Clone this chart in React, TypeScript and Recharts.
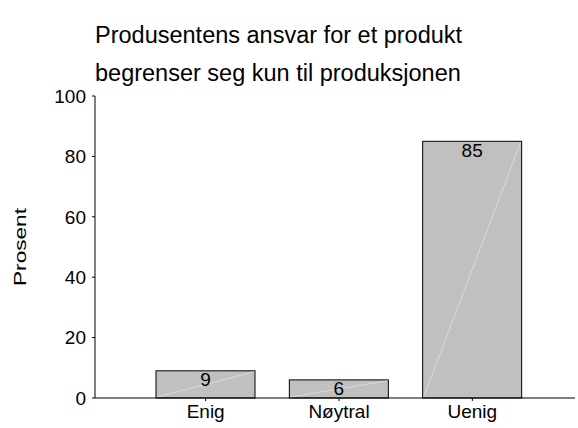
import { Bar, BarChart, LabelList, XAxis, YAxis } from "recharts"

const categories = ["Enig", "Nøytral", "Uenig"]
const percent = [9, 6, 85]
const yTicks = [0, 20, 40, 60, 80, 100]
const titleLines = ["Produsentens ansvar for et produkt", "begrenser seg kun til produksjonen"]

const data = categories.map((name, i) => ({ name, value: percent[i] }))

const FONT = "'Liberation Sans', Arial, sans-serif"

// SPSS-style bar: grey fill, black outline, faint diagonal highlight
function HatchedBar(props: any) {
  const { x, y, width, height } = props
  return (
    <g>
      <rect x={x} y={y} width={width} height={height} fill="#c0c0c0" stroke="#000" strokeWidth={1} />
      <line x1={x + 1} y1={y + height - 1} x2={x + width - 1} y2={y + 1} stroke="#dadada" strokeWidth={1} />
    </g>
  )
}

export default function App() {
  return (
    <div style={{ position: "absolute", left: 0, top: 0, width: 578, height: 428, background: "#fff", fontFamily: FONT }}>
      <div style={{ position: "absolute", left: 95, top: 16, fontSize: 23.5, lineHeight: "38px", color: "#000", whiteSpace: "nowrap" }}>
        {titleLines.map((t) => (
          <div key={t}>{t}</div>
        ))}
      </div>
      <BarChart
        width={578}
        height={428}
        data={data}
        margin={{ top: 96, right: 3, left: 0, bottom: 0 }}
        barSize={99}
        style={{ fontFamily: FONT }}
      >
        <XAxis
          dataKey="name"
          height={30}
          padding={{ left: 44, right: 36 }}
          tick={{ fill: "#000", fontSize: 19 }}
          tickLine={{ stroke: "#000" }}
          tickSize={3}
          tickMargin={4}
          axisLine={{ stroke: "#000" }}
        />
        <YAxis
          width={95}
          domain={[0, 100]}
          ticks={yTicks}
          tick={{ fill: "#000", fontSize: 19 }}
          tickLine={{ stroke: "#000" }}
          tickSize={3}
          tickMargin={6}
          axisLine={{ stroke: "#000" }}
          label={{
            content: ({ viewBox }: any) => {
              const cy = viewBox.y + viewBox.height / 2
              return (
                <text
                  x={20}
                  y={cy}
                  transform={`rotate(-90, 20, ${cy})`}
                  textAnchor="middle"
                  dominantBaseline="central"
                  fontSize={16}
                  textLength={78}
                  lengthAdjust="spacingAndGlyphs"
                  fill="#000"
                >
                  Prosent
                </text>
              )
            },
          }}
        />
        <Bar dataKey="value" shape={HatchedBar} isAnimationActive={false}>
          <LabelList dataKey="value" position="insideTop" offset={2} fill="#000" fontSize={19} />
        </Bar>
      </BarChart>
    </div>
  )
}
